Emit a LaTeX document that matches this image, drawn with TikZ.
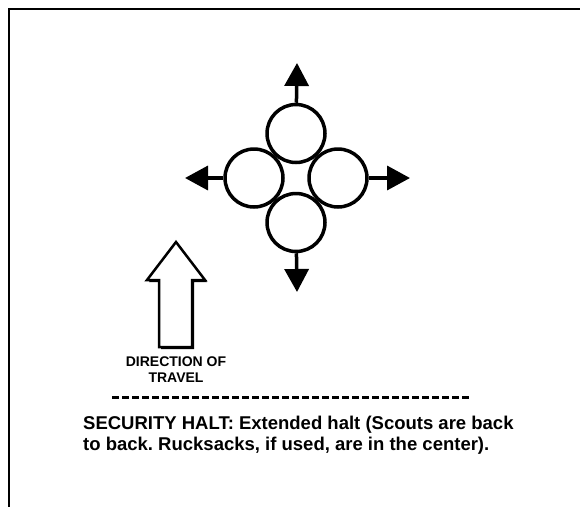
\documentclass[tikz,border=0pt]{standalone}
\usepackage{fontspec}
\setmainfont{Liberation Sans}
\usetikzlibrary{arrows.meta}
\begin{document}
\frenchspacing
\begin{tikzpicture}[x=1pt,y=-1pt,
    scout/.style={circle,draw,line width=3.5pt,minimum size=58pt,inner sep=0pt},
    facing/.style={line width=3.5pt,-{Triangle[length=23pt,width=24pt]}},
    every node/.style={font=\bfseries}]
  \useasboundingbox (0,0) rectangle (580,506);
  % frame, cut by the page on the right and at the bottom
  \begin{scope}
    \clip (0,0) rectangle (580,506);
    \draw[line width=2.5pt] (9,9) rectangle (620,560);
  \end{scope}
  % four scouts back to back, each facing out
  \foreach \name/\dx/\dy/\tx/\ty in {N/0/-44.5/297/63, E/42/0/410/178,
      S/0/44.5/297/292, W/-42/0/185/178}{
    \node[scout] (scout\name) at (296+\dx,178+\dy) {};
    \coordinate (look\name) at (\tx,\ty);
    \draw[facing] (scout\name) -- (look\name);
  }
  % direction of travel
  \begin{scope}[shift={(2,2)}]
    \fill (176,242) -- (205,280) -- (192,280) -- (192,347) -- (159,347)
      -- (159,280) -- (147,280) -- cycle;
  \end{scope}
  \draw[line width=2.5pt,fill=white] (176,242) -- (205,280) -- (192,280)
    -- (192,347) -- (159,347) -- (159,280) -- (147,280) -- cycle;
  \node[font=\bfseries\fontsize{14}{16}\selectfont,align=center] (travel)
    at (176,370) {DIRECTION OF\\TRAVEL};
  % separator
  \coordinate (dashL) at (112,397);
  \coordinate (dashR) at (472,397);
  \draw[line width=3pt,dash pattern=on 7pt off 3pt] (dashL) -- (dashR);
  \node[font=\bfseries\fontsize{18.5}{21}\selectfont,align=left,
    anchor=north west,inner sep=0pt] (halt) at (83,416)
    {SECURITY HALT: Extended halt (Scouts are back\\
     to back. Rucksacks, if used, are in the center).};
\end{tikzpicture}
\end{document}
